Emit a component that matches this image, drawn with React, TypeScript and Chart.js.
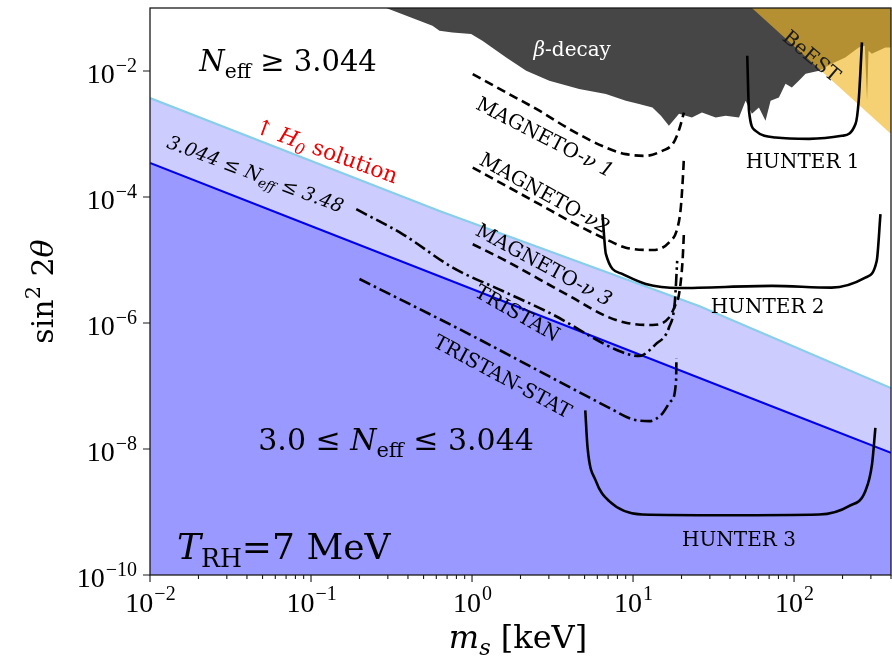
import { useEffect, useRef } from 'react';
import { Chart, registerables } from 'chart.js';

Chart.register(...registerables);

// ---------- axis ranges & tick labels ----------
const X_MIN = 0.01;
const X_MAX = 400;
const Y_MIN = 1e-10;
const Y_MAX = 0.1;
const xDecades = [0.01, 0.1, 1, 10, 100];
const xTickExponents = ['−2', '−1', '0', '1', '2'];
const yDecades = [1e-10, 1e-8, 1e-6, 1e-4, 1e-2];
const yTickExponents = ['−10', '−8', '−6', '−4', '−2'];

// ---------- cosmology bands ----------
const neffMass = [0.01, 0.1, 1, 10, 100, 400];
const neffMixing = [3.47e-4, 3.47e-5, 3.47e-6, 3.47e-7, 3.47e-8, 8.67e-9];
const h0Mass = [0.01, 0.628, 25.7, 400];
const h0Mixing = [3.72e-3, 6.0e-5, 1.86e-6, 9.3e-8];

// ---------- beta-decay excluded region (lower edge) ----------
const betaMass = [0.293, 0.568, 0.628, 0.756, 0.987, 1.16, 1.63, 2.17, 3.02, 4.63, 6.78, 9.02, 10.9, 13.2, 14.9, 16.7, 19.3, 23.2, 26.8, 32.6, 37.6, 45.5, 50.0, 54.7, 60.5, 66.5, 71.5, 80.5, 88.5, 96.9, 107, 118, 143, 171, 208, 252, 275, 284, 290, 304, 369, 400];
const betaMixing = [0.1, 0.0524, 0.0435, 0.0409, 0.0386, 0.0302, 0.0164, 0.0101, 0.0070, 0.00516, 0.0043, 0.00337, 0.00298, 0.00264, 0.00194, 0.00135, 0.00209, 0.00183, 0.00219, 0.00183, 0.00194, 0.00183, 0.00337, 0.00209, 0.00264, 0.00162, 0.00337, 0.0038, 0.00627, 0.00548, 0.0070, 0.00904, 0.0101, 0.0130, 0.0164, 0.0237, 0.0252, 0.00337, 0.021, 0.0188, 0.0237, 0.0237];

// ---------- BeEST excluded region (lower edge) ----------
const beestMass = [54.7, 400];
const beestMixing = [0.1, 1.0e-3];

// ---------- projected sensitivities ----------
const magneto1Mass = [1.01, 1.63, 2.62, 4.21, 6.78, 9.02, 12.0, 15.2, 17.6, 18.9, 19.8, 20.7];
const magneto1Mixing = [8.94e-3, 4.56e-3, 2.34e-3, 1.12e-3, 6.10e-4, 4.79e-4, 4.50e-4, 5.41e-4, 6.9e-4, 9.95e-4, 1.44e-3, 2.19e-3];
const magneto2Mass = [1.01, 1.63, 2.62, 4.21, 6.78, 9.02, 13.2, 16.7, 18.9, 19.8, 20.4, 20.7];
const magneto2Mixing = [2.93e-4, 1.50e-4, 7.69e-5, 3.93e-5, 2.14e-5, 1.57e-5, 1.44e-5, 1.89e-5, 3.27e-5, 6.79e-5, 2.04e-4, 4.22e-4];
const magneto3Mass = [1.01, 1.63, 2.62, 4.21, 6.78, 9.02, 13.2, 16.7, 18.4, 19.3, 20.3, 20.7];
const magneto3Mixing = [1.78e-5, 9.66e-6, 4.94e-6, 2.52e-6, 1.29e-6, 1.01e-6, 9.29e-7, 1.21e-6, 1.98e-6, 2.86e-6, 9.66e-6, 2.72e-5];
const tristanMass = [0.191, 0.372, 0.759, 1.55, 3.16, 8.2, 10.9, 13.8, 16.7, 18.2, 18.8];
const tristanMixing = [6.40e-5, 2.56e-5, 7.57e-6, 3.22e-6, 1.37e-6, 3.59e-7, 2.99e-7, 4.59e-7, 8.41e-7, 2.24e-6, 9.66e-6];
const tristanStatMass = [0.2, 0.964, 3.15, 7.11, 9.87, 12.6, 15.1, 17.2, 18.5, 18.6];
const tristanStatMixing = [5.0e-6, 6.61e-7, 1.34e-7, 4.51e-8, 2.98e-8, 2.77e-8, 3.58e-8, 5.76e-8, 1.20e-7, 2.78e-7];
const hunter1Mass = [51.2, 52.5, 57.7, 76.8, 124, 198, 241, 252, 264];
const hunter1Mixing = [0.01746, 2.34e-3, 1.12e-3, 8.79e-4, 8.38e-4, 9.35e-4, 1.45e-3, 3.37e-3, 0.0284];
const hunter2Mass = [6.46, 6.78, 8.56, 12.0, 19.3, 72.8, 171, 277, 326, 344];
const hunter2Mixing = [5.33e-5, 1.25e-5, 6.01e-6, 4.17e-6, 3.60e-6, 3.88e-6, 3.64e-6, 5.25e-6, 9.66e-6, 5.33e-5];
const hunter3Mass = [5.05, 5.22, 5.88, 7.11, 11.4, 37.6, 143, 219, 277, 305, 320];
const hunter3Mixing = [4.10e-8, 1.04e-8, 3.09e-9, 1.49e-9, 9.13e-10, 8.90e-10, 9.13e-10, 1.24e-9, 2.14e-9, 5.75e-9, 2.17e-8];

// ---------- text annotations (data coordinates) ----------
type Seg = [string, string];
type Note = { m: number; s: number; angle: number; size: number; color: string; anchor: 'middle' | 'baseline'; segs: Seg[] };
const annotations: Note[] = [
  { m: 0.072, s: 0.01455, angle: 0, size: 29, color: '#000', anchor: 'middle', segs: [['N', 'i'], ['eff', 'sb'], [' ≥ 3.044', 'n']] },
  { m: 0.120, s: 4.19e-4, angle: 20, size: 22, color: '#ee0000', anchor: 'baseline', segs: [['↑ ', 'n'], ['H', 'i'], ['0', 'si'], [' solution', 'n']] },
  { m: 0.0437, s: 1.86e-4, angle: 20.6, size: 19, color: '#000', anchor: 'baseline', segs: [['3.044 ≤ ', 'i'], ['N', 'i'], ['eff', 'si'], [' ≤ 3.48', 'i']] },
  { m: 2.85, s: 9.08e-4, angle: 27.3, size: 20, color: '#000', anchor: 'middle', segs: [['MAGNETO-', 'n'], ['ν 1', 'i']] },
  { m: 2.84, s: 1.17e-4, angle: 29, size: 20, color: '#000', anchor: 'middle', segs: [['MAGNETO-', 'n'], ['ν2', 'i']] },
  { m: 2.81, s: 8.57e-6, angle: 28.4, size: 20, color: '#000', anchor: 'middle', segs: [['MAGNETO-', 'n'], ['ν 3', 'i']] },
  { m: 1.92, s: 1.46e-6, angle: 29.7, size: 20, color: '#000', anchor: 'middle', segs: [['TRISTAN', 'n']] },
  { m: 1.55, s: 1.44e-7, angle: 28.3, size: 20, color: '#000', anchor: 'middle', segs: [['TRISTAN-STAT', 'n']] },
  { m: 129, s: 0.01746, angle: 40, size: 20, color: '#1a1a1a', anchor: 'middle', segs: [['BeEST', 'n']] },
  { m: 4.19, s: 0.02255, angle: 0, size: 20, color: '#ffffff', anchor: 'middle', segs: [['β', 'i'], ['-decay', 'n']] },
  { m: 113, s: 3.75e-4, angle: 0, size: 20, color: '#000', anchor: 'middle', segs: [['HUNTER 1', 'n']] },
  { m: 68.5, s: 1.86e-6, angle: 0, size: 20, color: '#000', anchor: 'middle', segs: [['HUNTER 2', 'n']] },
  { m: 45.5, s: 3.70e-10, angle: 0, size: 20, color: '#000', anchor: 'middle', segs: [['HUNTER 3', 'n']] },
  { m: 0.3375, s: 1.435e-8, angle: 0, size: 30, color: '#000', anchor: 'middle', segs: [['3.0 ≤ ', 'n'], ['N', 'i'], ['eff', 'sb'], [' ≤ 3.044', 'n']] },
  { m: 0.0677, s: 2.9e-10, angle: 0, size: 36, color: '#000', anchor: 'middle', segs: [['T', 'i'], ['RH', 'sb'], ['=7 MeV', 'n']] },
];

const SERIF = '"DejaVu Serif", serif';
const TICK_SERIF = '"Liberation Serif", "Times New Roman", serif';

const zip = (xs: number[], ys: number[]) => xs.map((x, i) => ({ x, y: ys[i] }));

function drawRich(
  ctx: CanvasRenderingContext2D,
  segs: Seg[],
  x: number,
  y: number,
  size: number,
  opts: { align?: 'left' | 'center' | 'right'; angle?: number; color?: string; family?: string; anchor?: 'middle' | 'baseline' },
) {
  const family = opts.family || SERIF;
  ctx.save();
  ctx.translate(x, y);
  ctx.rotate(((opts.angle || 0) * Math.PI) / 180);
  ctx.fillStyle = opts.color || '#000';
  ctx.textBaseline = 'alphabetic';
  ctx.textAlign = 'left';
  const parts = segs.map(([t, k]) => {
    const small = k === 'sb' || k === 'si' || k === 'sp';
    const sz = small ? size * 0.7 : size;
    const it = k === 'i' || k === 'si';
    const f = `${it ? 'italic ' : ''}${sz}px ${family}`;
    ctx.font = f;
    const dy = k === 'sb' || k === 'si' ? size * 0.22 : k === 'sp' ? -size * 0.42 : 0;
    return { t, f, w: ctx.measureText(t).width, dy };
  });
  const total = parts.reduce((a, p) => a + p.w, 0);
  const align = opts.align || 'center';
  let cx = align === 'center' ? -total / 2 : align === 'right' ? -total : 0;
  const by = opts.anchor === 'middle' ? size * 0.36 : 0;
  for (const p of parts) {
    ctx.font = p.f;
    ctx.fillText(p.t, cx, by + p.dy);
    cx += p.w;
  }
  ctx.restore();
}

const decorPlugin = {
  id: 'decor',
  afterDatasetsDraw(chart: any) {
    const ctx: CanvasRenderingContext2D = chart.ctx;
    const xs = chart.scales.x;
    const ys = chart.scales.y;
    const a = chart.chartArea;

    // annotations
    for (const n of annotations) {
      drawRich(ctx, n.segs, xs.getPixelForValue(n.m), ys.getPixelForValue(n.s), n.size, {
        angle: n.angle,
        color: n.color,
        anchor: n.anchor,
      });
    }

    // frame
    ctx.save();
    ctx.strokeStyle = '#1a1a1a';
    ctx.lineWidth = 1.3;
    ctx.strokeRect(a.left, a.top, a.right - a.left, a.bottom - a.top);

    // x ticks
    ctx.lineWidth = 1.1;
    ctx.beginPath();
    for (let d = -2; d <= 2; d++) {
      for (let k = 1; k <= 9; k++) {
        const v = k * Math.pow(10, d);
        if (v < X_MIN * 0.999 || v > X_MAX * 1.001) continue;
        const px = xs.getPixelForValue(v);
        const len = k === 1 ? 7 : 4;
        ctx.moveTo(px, a.bottom);
        ctx.lineTo(px, a.bottom + len);
      }
    }
    // y ticks
    for (const v of yDecades) {
      const py = ys.getPixelForValue(v);
      ctx.moveTo(a.left, py);
      ctx.lineTo(a.left - 7, py);
    }
    ctx.stroke();
    ctx.restore();

    // tick labels
    ctx.save();
    ctx.fillStyle = '#000';
    ctx.textBaseline = 'alphabetic';
    ctx.textAlign = 'left';
    const bigF = `28px ${TICK_SERIF}`;
    const supF = `20px ${TICK_SERIF}`;
    xDecades.forEach((v, i) => {
      const px = xs.getPixelForValue(v);
      ctx.font = bigF;
      const w1 = ctx.measureText('10').width;
      ctx.font = supF;
      const w2 = ctx.measureText(xTickExponents[i]).width;
      const x0 = px - (w1 + w2) / 2;
      ctx.font = bigF;
      ctx.fillText('10', x0, a.bottom + 37);
      ctx.font = supF;
      ctx.fillText(xTickExponents[i], x0 + w1 + 1, a.bottom + 25);
    });
    yDecades.forEach((v, i) => {
      const py = ys.getPixelForValue(v);
      ctx.font = supF;
      const w2 = ctx.measureText(yTickExponents[i]).width;
      ctx.font = bigF;
      const w1 = ctx.measureText('10').width;
      const right = a.left - 13;
      ctx.fillText('10', right - w2 - w1 - 1, py + 12);
      ctx.font = supF;
      ctx.fillText(yTickExponents[i], right - w2, py + 1);
    });
    ctx.restore();

    // axis titles
    drawRich(ctx, [['m', 'i'], ['s', 'si'], [' [keV]', 'n']], a.left + 368, a.bottom + 73, 32, { anchor: 'baseline' });
    ctx.save();
    ctx.translate(a.left - 97, (a.top + a.bottom) / 2);
    drawRich(ctx, [['sin', 'n'], ['2', 'sp'], [' 2', 'n'], ['θ', 'i']], 0, 0, 30, { angle: -90, anchor: 'baseline' });
    ctx.restore();
  },
};

export default function App() {
  const ref = useRef<HTMLCanvasElement | null>(null);

  useEffect(() => {
    if (!ref.current) return;
    document.body.style.margin = '0';
    const base = { pointRadius: 0, pointHoverRadius: 0, borderWidth: 0 };
    const curve = (data: any, dash: number[], order: number) => ({
      data,
      borderColor: '#000',
      borderWidth: 2.6,
      borderDash: dash,
      pointRadius: 0,
      fill: false,
      cubicInterpolationMode: 'monotone',
      order,
    });
    const chart = new Chart(ref.current, {
      type: 'line',
      data: {
        datasets: [
          { ...base, data: zip(neffMass, neffMixing), fill: 'start', backgroundColor: '#9999ff', order: 100 },
          { ...base, data: zip(h0Mass, h0Mixing), fill: '-1', backgroundColor: '#ccccff', order: 99 },
          { ...base, data: zip(betaMass, betaMixing), fill: 'end', backgroundColor: '#464646', order: 90 },
          { ...base, data: zip(beestMass, beestMixing), fill: 'end', backgroundColor: 'rgba(240,185,40,0.65)', order: 80 },
          { data: zip(h0Mass, h0Mixing), borderColor: '#87ceeb', borderWidth: 2, pointRadius: 0, fill: false, order: 20 },
          { data: zip(neffMass, neffMixing), borderColor: '#0000ee', borderWidth: 2, pointRadius: 0, fill: false, order: 20 },
          curve(zip(magneto1Mass, magneto1Mixing), [9, 5], 5),
          curve(zip(magneto2Mass, magneto2Mixing), [9, 5], 5),
          curve(zip(magneto3Mass, magneto3Mixing), [9, 5], 5),
          curve(zip(tristanMass, tristanMixing), [12, 4, 2.5, 4], 5),
          curve(zip(tristanStatMass, tristanStatMixing), [12, 4, 2.5, 4], 5),
          curve(zip(hunter1Mass, hunter1Mixing), [], 4),
          curve(zip(hunter2Mass, hunter2Mixing), [], 4),
          curve(zip(hunter3Mass, hunter3Mixing), [], 4),
        ] as any,
      },
      options: {
        animation: false,
        responsive: false,
        devicePixelRatio: 1,
        events: [],
        layout: { padding: { left: 150, top: 8, right: 1, bottom: 88 } },
        elements: { line: { tension: 0 } },
        plugins: { legend: { display: false }, tooltip: { enabled: false } },
        scales: {
          x: { type: 'logarithmic', min: X_MIN, max: X_MAX, bounds: 'data', display: false },
          y: { type: 'logarithmic', min: Y_MIN, max: Y_MAX, bounds: 'data', display: false },
        } as any,
      },
      plugins: [decorPlugin as any],
    });
    return () => chart.destroy();
  }, []);

  return (
    <div style={{ position: 'absolute', left: 0, top: 0, width: 892, height: 663, background: '#fff' }}>
      <canvas ref={ref} width={892} height={663} style={{ width: 892, height: 663, display: 'block' }} />
    </div>
  );
}
